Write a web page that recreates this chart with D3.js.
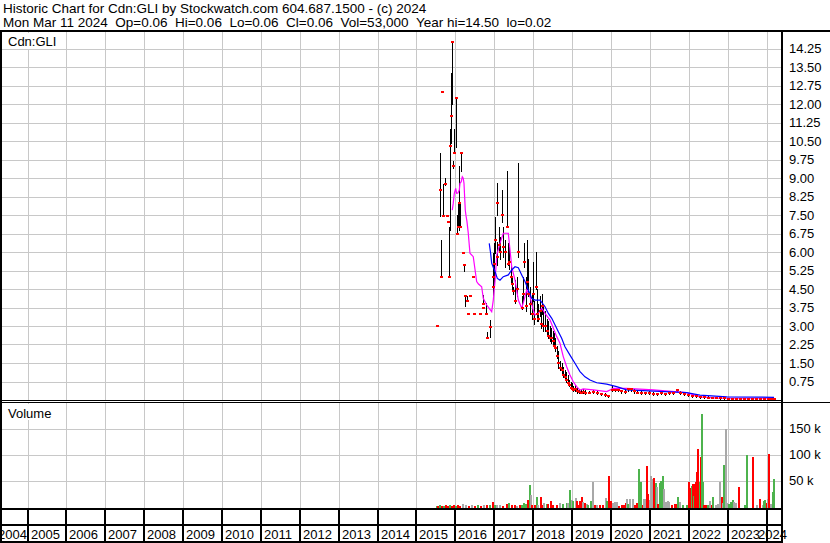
<!DOCTYPE html>
<html><head><meta charset="utf-8">
<script src="https://cdn.jsdelivr.net/npm/d3@7/dist/d3.min.js"></script>
<style>
body{margin:0;background:#fff}
svg{display:block}
text{font-family:Arial,"Liberation Sans",sans-serif;font-size:13px;fill:#000;white-space:pre}
text.hdr{font-size:13.5px}
</style>
</head><body><svg id="c" width="830" height="543"></svg>
<script>
// ---------------- DATA ----------------
const titleLine1 = "Historic Chart for Cdn:GLI by Stockwatch.com 604.687.1500 - (c) 2024";
const titleLine2 = "Mon Mar 11 2024  Op=0.06  Hi=0.06  Lo=0.06  Cl=0.06  Vol=53,000  Year hi=14.50  lo=0.02";
const symbolLabel = "Cdn:GLI";
const volumeLabel = "Volume";
const yearLabels = ["2004","2005","2006","2007","2008","2009","2010","2011","2012","2013","2014","2015","2016","2017","2018","2019","2020","2021","2022","2023","2024"];
const priceTicks = [0.75,1.5,2.25,3.0,3.75,4.5,5.25,6.0,6.75,7.5,8.25,9.0,9.75,10.5,11.25,12.0,12.75,13.5,14.25];
const volumeTicks = [50,100,150];            // thousands of shares
const volumeTickLabels = ["50 k","100 k","150 k"];

const barDates = ["2015-07-17","2015-08-12","2015-08-17","2015-09-02","2015-09-08","2015-09-28","2015-10-11","2015-10-21","2015-11-05","2015-11-14","2015-11-25","2015-12-03","2015-12-12","2015-12-22",
"2016-01-04","2016-01-19","2016-01-28","2016-02-07","2016-02-16","2016-02-25","2016-03-10","2016-03-23","2016-04-01","2016-04-16","2016-04-28","2016-05-17","2016-06-17","2016-06-24","2016-08-19","2016-09-13","2016-09-19","2016-10-11","2016-10-24","2016-11-21","2016-12-16","2016-12-22","2016-12-28",
"2017-01-10","2017-01-24","2017-01-30","2017-02-09","2017-02-23","2017-03-11","2017-03-24","2017-04-11","2017-05-03","2017-05-12","2017-05-22","2017-06-04","2017-06-13","2017-06-28","2017-07-14","2017-07-28","2017-08-14","2017-09-15","2017-09-27","2017-10-09","2017-10-21","2017-11-04","2017-11-16","2017-12-02","2017-12-18","2017-12-30",
"2018-01-09","2018-01-23","2018-02-06","2018-02-18","2018-03-01","2018-03-15","2018-03-25","2018-04-06","2018-04-22","2018-05-06","2018-05-20","2018-06-03","2018-06-17","2018-07-01","2018-07-15","2018-07-29","2018-08-12","2018-08-26","2018-09-09","2018-09-24","2018-10-08","2018-10-22","2018-11-05","2018-11-19","2018-12-03","2018-12-17","2018-12-31",
"2019-01-14","2019-01-28","2019-02-16","2019-03-07","2019-03-26","2019-04-13","2019-05-02","2019-06-09","2019-07-16","2019-08-23","2019-09-29","2019-11-06","2019-12-04",
"2020-01-08","2020-02-08","2020-03-07","2020-04-04","2020-05-11","2020-06-09","2020-07-07","2020-08-04","2020-09-01","2020-10-09","2020-11-15","2020-12-23",
"2021-01-30","2021-03-08","2021-04-14","2021-05-22","2021-06-28","2021-08-05","2021-09-08","2021-10-09","2021-11-16","2021-12-24",
"2022-01-31","2022-03-09","2022-04-15","2022-05-23","2022-06-29","2022-08-06","2022-09-12","2022-10-20","2022-11-26",
"2023-01-04","2023-02-10","2023-03-20","2023-04-26","2023-06-03","2023-07-10","2023-08-17","2023-09-24","2023-10-31","2023-12-08",
"2024-01-14","2024-02-11","2024-03-11"];
const barHigh = [3.0,10.0,6.5,12.5,8.75,9.0,7.5,7.2,7.0,11.0,13.25,14.5,9.7,11.0,
12.25,7.5,8.0,9.5,8.0,10.0,6.0,5.5,4.25,4.2,3.5,4.2,5.0,3.5,3.5,4.25,3.75,3.93,2.75,3.24,5.95,5.47,6.35,
7.43,8.8,6.4,7.0,6.6,8.5,7.0,6.5,9.3,6.35,6.2,5.47,5.0,4.6,4.86,5.0,9.6,4.2,5.0,6.35,5.0,6.5,5.7,4.6,4.3,5.6,
4.0,6.0,4.5,3.9,4.2,3.7,4.3,3.8,3.6,3.3,3.2,3.0,2.9,2.8,2.7,2.5,2.2,2.0,1.6,1.5,1.35,1.2,1.15,1.0,0.8,0.75,0.7,
0.55,0.6,0.5,0.45,0.4,0.45,0.4,0.38,0.4,0.35,0.3,0.28,0.22,
0.6,0.5,0.48,0.42,0.4,0.5,0.48,0.45,0.38,0.35,0.33,0.35,
0.32,0.3,0.33,0.3,0.32,0.35,0.45,0.35,0.3,0.28,
0.22,0.2,0.18,0.17,0.15,0.14,0.12,0.1,0.1,
0.09,0.08,0.08,0.07,0.07,0.06,0.06,0.06,0.07,0.07,
0.07,0.07,0.06];
const barLow = [3.0,7.45,5.0,12.5,7.45,8.7,7.45,7.2,5.0,6.9,10.4,12.0,9.4,10.0,
10.25,6.75,7.0,6.9,7.0,9.3,5.95,5.25,3.8,4.0,3.5,4.2,5.0,3.5,3.5,3.9,3.72,3.5,2.5,2.57,4.46,4.19,4.6,
5.95,7.5,5.47,6.0,5.7,7.2,5.8,5.4,7.0,5.47,5.3,4.8,4.5,4.3,3.92,4.2,5.8,3.7,4.0,5.4,3.6,4.5,4.2,3.5,3.3,4.0,
3.1,4.5,3.2,3.2,3.4,2.9,3.5,2.8,2.8,2.6,2.5,2.4,2.3,2.2,2.1,2.0,1.7,1.3,1.2,1.1,0.95,0.85,0.75,0.65,0.55,0.45,0.4,
0.35,0.38,0.3,0.3,0.28,0.3,0.25,0.28,0.3,0.25,0.22,0.18,0.12,
0.35,0.35,0.38,0.3,0.28,0.35,0.38,0.3,0.28,0.25,0.24,0.25,
0.22,0.22,0.24,0.2,0.24,0.25,0.35,0.25,0.22,0.18,
0.12,0.12,0.1,0.1,0.08,0.08,0.07,0.06,0.05,
0.05,0.04,0.04,0.03,0.03,0.03,0.02,0.03,0.03,0.04,
0.04,0.05,0.06];
const barClose = [3.0,8.5,5.0,12.5,7.45,8.75,7.47,7.2,5.0,10.3,11.5,14.5,9.5,10.0,
12.25,6.75,7.0,8.0,7.0,10.0,5.97,5.47,4.2,4.0,3.5,4.2,5.0,3.5,3.5,3.9,3.72,3.5,2.5,2.97,5.0,4.6,5.5,
6.5,8.0,5.8,6.3,6.0,7.5,6.2,6.0,7.0,5.5,5.6,5.0,4.7,4.4,4.0,4.5,6.0,3.75,4.3,5.6,3.8,4.8,4.3,3.9,3.5,4.3,
3.3,4.6,3.5,3.3,3.6,3.1,3.8,3.0,3.0,2.8,2.6,2.5,2.5,2.4,2.2,2.1,1.8,1.5,1.3,1.2,1.0,0.95,0.8,0.7,0.6,0.5,0.45,
0.4,0.45,0.35,0.32,0.3,0.33,0.3,0.3,0.33,0.28,0.25,0.2,0.15,
0.4,0.42,0.4,0.35,0.32,0.45,0.45,0.35,0.3,0.3,0.28,0.3,
0.25,0.25,0.28,0.25,0.28,0.3,0.4,0.3,0.25,0.2,
0.15,0.15,0.12,0.12,0.1,0.1,0.09,0.08,0.07,
0.06,0.05,0.05,0.05,0.05,0.04,0.04,0.04,0.05,0.06,
0.05,0.06,0.06];

const maShortDates = ["2015-12-03","2015-12-12","2015-12-22","2016-01-04","2016-01-13","2016-01-25","2016-02-07","2016-02-13","2016-02-25","2016-03-06","2016-03-15","2016-03-22","2016-03-28","2016-04-03","2016-04-09","2016-04-19","2016-05-01","2016-05-17","2016-06-17","2016-07-19","2016-08-05","2016-09-04","2016-09-19","2016-10-21","2016-12-07","2016-12-22","2017-01-08","2017-01-24","2017-02-23","2017-03-26","2017-05-12","2017-05-28","2017-06-13","2017-07-14","2017-08-14","2017-09-15","2017-10-07","2017-11-01","2017-12-02","2018-01-01","2018-01-18","2018-02-18","2018-03-22","2018-04-22","2018-06-08","2018-07-09","2018-08-09","2018-09-09","2018-10-10","2018-11-11","2018-12-12","2019-01-12","2019-02-13","2019-03-16","2019-04-16","2019-07-19","2019-11-22","2020-01-23","2020-05-27","2021-02-02","2021-12-12","2022-04-15","2022-10-20","2024-03-11"];
const maShortValues = [7.70,7.97,8.38,8.58,8.38,8.39,8.51,8.78,8.85,9.05,8.99,8.78,8.24,7.70,7.50,7.23,6.77,5.95,5.81,4.80,4.70,4.59,4.12,3.85,3.58,4.05,4.86,5.88,6.35,6.76,6.76,6.08,5.40,4.86,4.05,3.72,4.05,4.46,4.19,3.65,3.45,3.51,3.72,3.51,3.24,2.91,2.57,2.30,1.76,1.35,1.01,0.74,0.54,0.40,0.45,0.41,0.34,0.47,0.47,0.41,0.30,0.13,0.07,0.07];
const maLongDates = ["2016-11-14","2016-11-27","2016-12-07","2017-01-08","2017-01-29","2017-02-23","2017-03-26","2017-05-12","2017-06-13","2017-07-14","2017-08-14","2017-09-15","2017-10-16","2017-11-16","2017-12-18","2018-01-18","2018-03-06","2018-04-22","2018-05-23","2018-06-24","2018-07-25","2018-08-25","2018-09-25","2018-10-26","2018-12-12","2019-01-28","2019-03-16","2019-05-02","2019-06-18","2019-08-20","2019-11-22","2020-02-23","2020-05-27","2021-12-12","2022-04-15","2022-12-23","2024-03-11"];
const maLongValues = [6.35,5.95,5.54,5.20,4.93,4.86,5.00,5.07,5.27,5.40,5.36,5.07,4.80,4.46,4.12,4.05,4.05,3.78,3.51,3.31,3.04,2.77,2.50,2.16,1.82,1.49,1.15,0.94,0.81,0.70,0.64,0.54,0.41,0.30,0.20,0.13,0.11];

const volDates = ["2015-07-12","2015-07-26","2015-08-09","2015-08-28","2015-09-16","2015-10-05","2015-10-24","2015-11-11","2015-11-30","2015-12-19",
"2016-01-07","2016-01-25","2016-02-13","2016-03-15","2016-04-09","2016-05-08","2016-06-05","2016-07-03","2016-07-31","2016-08-28","2016-09-25","2016-10-24","2016-11-21","2016-12-22",
"2017-01-08","2017-01-26","2017-02-23","2017-03-24","2017-05-03","2017-05-19","2017-06-16","2017-07-14","2017-08-02","2017-08-30","2017-09-18","2017-10-09","2017-10-25","2017-11-16","2017-12-02","2017-12-11","2017-12-25",
"2018-01-18","2018-02-03","2018-02-15","2018-03-12","2018-03-25","2018-04-08","2018-05-08","2018-05-23","2018-06-14","2018-07-09","2018-08-09","2018-09-09","2018-10-10","2018-11-11","2018-11-26","2018-12-12","2018-12-28",
"2019-01-12","2019-02-07","2019-02-19","2019-03-07","2019-03-16","2019-04-01","2019-04-16","2019-05-02","2019-05-18","2019-06-02","2019-06-25","2019-07-19","2019-08-04","2019-08-20","2019-09-20","2019-10-21","2019-11-15","2019-11-27","2019-12-13","2019-12-29",
"2020-01-17","2020-02-08","2020-02-23","2020-03-19","2020-04-10","2020-05-02","2020-05-21","2020-06-02","2020-06-11","2020-06-27","2020-07-23","2020-08-13","2020-09-04","2020-09-23","2020-10-06","2020-10-24","2020-11-06","2020-11-18","2020-12-01","2020-12-16",
"2021-01-02","2021-01-09","2021-01-24","2021-02-08","2021-02-24","2021-03-08","2021-03-20","2021-04-05","2021-04-17","2021-04-30","2021-05-15","2021-05-31","2021-06-16","2021-07-01","2021-07-26","2021-08-24","2021-09-08","2021-09-23","2021-10-09","2021-11-09","2021-12-11",
"2022-01-06","2022-01-15","2022-01-28","2022-02-07","2022-02-16","2022-02-25","2022-03-07","2022-03-16","2022-03-26","2022-04-04","2022-04-13","2022-04-23","2022-05-02","2022-05-11","2022-05-24","2022-06-11","2022-06-30","2022-07-19","2022-08-04","2022-08-19","2022-09-13","2022-10-02","2022-10-21","2022-11-06","2022-11-18","2022-11-27","2022-12-13","2022-12-25",
"2023-01-13","2023-02-01","2023-02-17","2023-03-01","2023-03-20","2023-04-20","2023-06-12","2023-06-28","2023-08-29","2023-10-03","2023-10-31","2023-11-25","2023-12-08","2023-12-20",
"2024-01-02","2024-01-17","2024-01-26","2024-02-08","2024-02-27","2024-03-11"];
const volThousands = [1,1,2,1,1,2,1,2,1,2,
1,2,1,4,2,1,2,1,2,1,2,2,3,9,
3,3,2,1,4,7,2,3,1,2,3,6,5,12,41,22,3,
3,19,3,19,3,6,5,5,11,3,2,6,5,7,7,32,13,
10,17,11,2,11,18,8,6,5,2,11,48,2,2,3,3,16,11,59,11,
7,8,8,1,2,3,6,15,5,15,15,3,7,73,48,3,15,15,78,25,
12,59,52,54,45,37,5,45,50,59,34,8,10,8,3,5,5,18,8,3,2,
48,36,40,43,20,43,48,67,110,45,48,96,178,48,3,2,3,10,3,19,3,5,48,19,6,80,150,6,
4,8,12,8,6,37,2,99,96,3,14,3,10,12,
6,15,101,5,28,53];
// u = up (green), d = down (red), n = unchanged (grey)
const volDirection = ["u","d","u","d","u","d","d","u","d","d",
"u","d","d","n","n","d","n","d","u","d","n","d","u","d",
"u","n","n","d","d","u","d","d","n","d","u","u","u","d","u","n","d",
"d","u","n","d","d","n","u","d","d","d","d","n","u","u","n","u","n",
"u","n","d","d","d","d","n","d","n","u","u","n","d","n","d","d","n","u","d","d",
"n","n","n","d","d","d","d","n","u","n","n","d","d","u","u","d","n","n","d","d",
"n","n","n","d","u","n","d","u","u","u","n","n","n","n","d","d","d","u","n","u","u",
"d","d","u","d","u","d","d","d","d","d","u","d","u","u","d","d","u","n","d","u","n","n","n","d","n","u","n","n",
"u","u","u","n","n","d","u","u","d","n","d","n","u","u",
"d","n","d","n","u","u"];

// ---------------- CHART ----------------
const svg = d3.select("#c");
const parse = d3.utcParse("%Y-%m-%d");
const x = d3.scaleUtc().domain([Date.UTC(2005,0,1), Date.UTC(2024,0,1)]).range([27.5, 766.6]);
const yP = d3.scaleLinear().domain([0, 14.25]).range([400, 48.5]);
const yV = d3.scaleLinear().domain([0, 150]).range([506.5, 428.5]);
const plotR = 781, pTop = 32, pBot = 400, vTop = 403, vBot = 508;
const crisp = v => Math.round(v) + 0.5;
const gridColor = "#c8c8c8";
const volColor = {u:"#4db34d", d:"#ff0000", n:"#a8a8a8"};

svg.append("rect").attr("width",830).attr("height",543).attr("fill","#fff");

// header
svg.append("text").attr("class","hdr").attr("x",3).attr("y",13).text(titleLine1);
svg.append("text").attr("class","hdr").attr("x",3).attr("y",27).text(titleLine2.replace(/ /g,"\u00a0"));

// clip paths
const defs = svg.append("defs");
defs.append("clipPath").attr("id","cp").append("rect").attr("x",0).attr("y",pTop).attr("width",plotR).attr("height",pBot-pTop);
defs.append("clipPath").attr("id","cv").append("rect").attr("x",0).attr("y",vTop).attr("width",plotR).attr("height",vBot-vTop);

const yearX = yearLabels.map(y => x(Date.UTC(+y,0,1)));
const inPlot = yearX.filter(v => v > 0 && v < plotR);

// grid - price
const gp = svg.append("g");
gp.selectAll("line.h").data(priceTicks).join("line")
  .attr("x1",0).attr("x2",plotR).attr("y1",d=>crisp(yP(d))).attr("y2",d=>crisp(yP(d)))
  .attr("stroke",gridColor);
gp.selectAll("line.v").data(inPlot).join("line")
  .attr("x1",d=>crisp(d)).attr("x2",d=>crisp(d)).attr("y1",pTop).attr("y2",pBot)
  .attr("stroke",gridColor);
// grid - volume
const gv = svg.append("g");
gv.selectAll("line.h").data(volumeTicks).join("line")
  .attr("x1",0).attr("x2",plotR).attr("y1",d=>crisp(yV(d))).attr("y2",d=>crisp(yV(d)))
  .attr("stroke",gridColor);
gv.selectAll("line.v").data(inPlot).join("line")
  .attr("x1",d=>crisp(d)).attr("x2",d=>crisp(d)).attr("y1",vTop).attr("y2",vBot)
  .attr("stroke",gridColor);

// panel labels
function boxLabel(txt, y0, yb){
  const t = svg.append("text").attr("x",8).attr("y",yb).text(txt);
  const w = t.node().getComputedTextLength();
  svg.insert("rect", () => t.node()).attr("x",2).attr("y",y0).attr("width",w+9).attr("height",16).attr("fill","#fff");
}
boxLabel(symbolLabel, 33, 46);
boxLabel(volumeLabel, 404, 418);

// price bars
const bars = barDates.map((d,i)=>({date:parse(d), h:barHigh[i], l:barLow[i], c:barClose[i]}));
const pg = svg.append("g").attr("clip-path","url(#cp)");
pg.selectAll("line.bar").data(bars).join("line")
  .attr("x1",d=>crisp(x(d.date))).attr("x2",d=>crisp(x(d.date)))
  .attr("y1",d=>Math.round(yP(d.h))).attr("y2",d=>Math.round(yP(d.l))+1)
  .attr("stroke","#000").attr("stroke-width",1);

// moving averages
const maS = maShortDates.map((d,i)=>({date:parse(d), v:maShortValues[i]}));
const maL = maLongDates.map((d,i)=>({date:parse(d), v:maLongValues[i]}));
const line = d3.line().x(d=>x(d.date)).y(d=>yP(d.v));
pg.append("path").datum(maS).attr("d",line).attr("fill","none").attr("stroke","#ff00ff").attr("stroke-width",1.2);
pg.append("path").datum(maL).attr("d",line).attr("fill","none").attr("stroke","#0000ff").attr("stroke-width",1.2);

// closes
pg.selectAll("rect.cl").data(bars).join("rect")
  .attr("x",d=>Math.round(x(d.date))-1).attr("y",d=>Math.round(yP(d.c))-1)
  .attr("width",3).attr("height",2).attr("fill","#ff0000");

// volume bars
const vols = volDates.map((d,i)=>({date:parse(d), v:volThousands[i], dir:volDirection[i]}));
const vg = svg.append("g").attr("clip-path","url(#cv)");
vg.selectAll("rect").data(vols).join("rect")
  .attr("x",d=>Math.round(x(d.date))-1).attr("width",2)
  .attr("y",d=>Math.round(yV(d.v))).attr("height",d=>vBot-Math.round(yV(d.v)))
  .attr("fill",d=>volColor[d.dir]);

// frame lines
const k = "#000";
svg.append("rect").attr("x",0).attr("y",30).attr("width",830).attr("height",2).attr("fill",k);
svg.append("rect").attr("x",0).attr("y",32).attr("width",2).attr("height",511).attr("fill",k);
svg.append("line").attr("x1",0).attr("x2",plotR).attr("y1",400.5).attr("y2",400.5).attr("stroke",k);
svg.append("line").attr("x1",0).attr("x2",830).attr("y1",402.5).attr("y2",402.5).attr("stroke",k);
svg.append("rect").attr("x",0).attr("y",vBot).attr("width",plotR).attr("height",2).attr("fill",k);
svg.append("rect").attr("x",0).attr("y",524).attr("width",plotR).attr("height",2).attr("fill",k);
svg.append("rect").attr("x",0).attr("y",541).attr("width",plotR).attr("height",2).attr("fill",k);
svg.selectAll("rect.yr").data(inPlot).join("rect")
  .attr("x",d=>Math.round(d)-1).attr("y",vBot).attr("width",2).attr("height",543-vBot).attr("fill",k);
svg.append("rect").attr("x",plotR).attr("y",32).attr("width",2).attr("height",511).attr("fill",k);

// axis labels
svg.selectAll("text.pt").data(priceTicks).join("text")
  .attr("x",789).attr("y",d=>yP(d)).attr("dy","0.36em").text(d=>d3.format(".2f")(d));
svg.selectAll("text.vt").data(volumeTicks).join("text")
  .attr("x",789).attr("y",d=>yV(d)).attr("dy","0.36em").text((d,i)=>volumeTickLabels[i]);
svg.selectAll("text.yl").data(yearLabels).join("text")
  .attr("x",(d,i)=>Math.min(Math.max(Math.round(yearX[i])+3,-2),758)).attr("y",538.5).text(d=>d);
</script>
</body></html>
